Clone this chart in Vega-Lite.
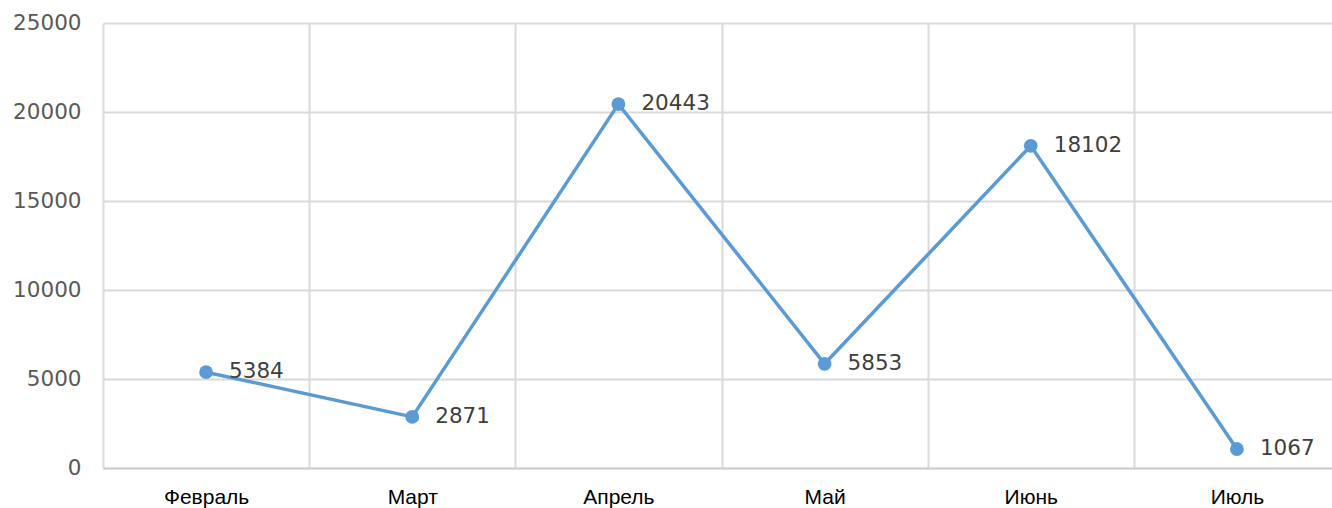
{
  "$schema": "https://vega.github.io/schema/vega-lite/v6.json",
  "autosize": "none",
  "width": 1237,
  "height": 445,
  "padding": {"left": 103, "top": 23, "right": 0, "bottom": 40},
  "background": "white",
  "config": {
    "view": {"stroke": null},
    "font": "Liberation Sans"
  },
  "data": {
    "values": [
      {"month": "Февраль", "value": 5384},
      {"month": "Март", "value": 2871},
      {"month": "Апрель", "value": 20443},
      {"month": "Май", "value": 5853},
      {"month": "Июнь", "value": 18102},
      {"month": "Июль", "value": 1067}
    ]
  },
  "encoding": {
    "x": {
      "field": "month",
      "type": "ordinal",
      "sort": null,
      "scale": {"type": "band", "paddingInner": 0, "paddingOuter": 0},
      "axis": {
        "title": null,
        "labelAngle": 0,
        "labelFontSize": 21,
        "labelColor": "#000000",
        "labelPadding": 18,
        "ticks": false,
        "domain": true,
        "domainColor": "#d0d0d0",
        "domainWidth": 2,
        "grid": true,
        "gridColor": "#d9d9d9",
        "gridWidth": 2,
        "tickBand": "extent"
      }
    },
    "y": {
      "field": "value",
      "type": "quantitative",
      "scale": {"domain": [0, 25000], "nice": false},
      "axis": {
        "title": null,
        "values": [0, 5000, 10000, 15000, 20000, 25000],
        "format": "d",
        "labelFont": "DejaVu Sans",
        "labelFontSize": 21.5,
        "labelColor": "#595959",
        "labelPadding": 22,
        "ticks": false,
        "domain": false,
        "grid": true,
        "gridColor": "#d9d9d9",
        "gridWidth": 2
      }
    }
  },
  "layer": [
    {
      "mark": {"type": "line", "color": "#5B9BD5", "strokeWidth": 3.5}
    },
    {
      "mark": {"type": "point", "filled": true, "color": "#5B9BD5", "size": 190, "opacity": 1}
    },
    {
      "mark": {"type": "text", "align": "left", "baseline": "middle", "dx": 23, "font": "DejaVu Sans", "fontSize": 21.5, "color": "#404040"},
      "encoding": {"text": {"field": "value", "type": "quantitative", "format": "d"}}
    }
  ]
}
